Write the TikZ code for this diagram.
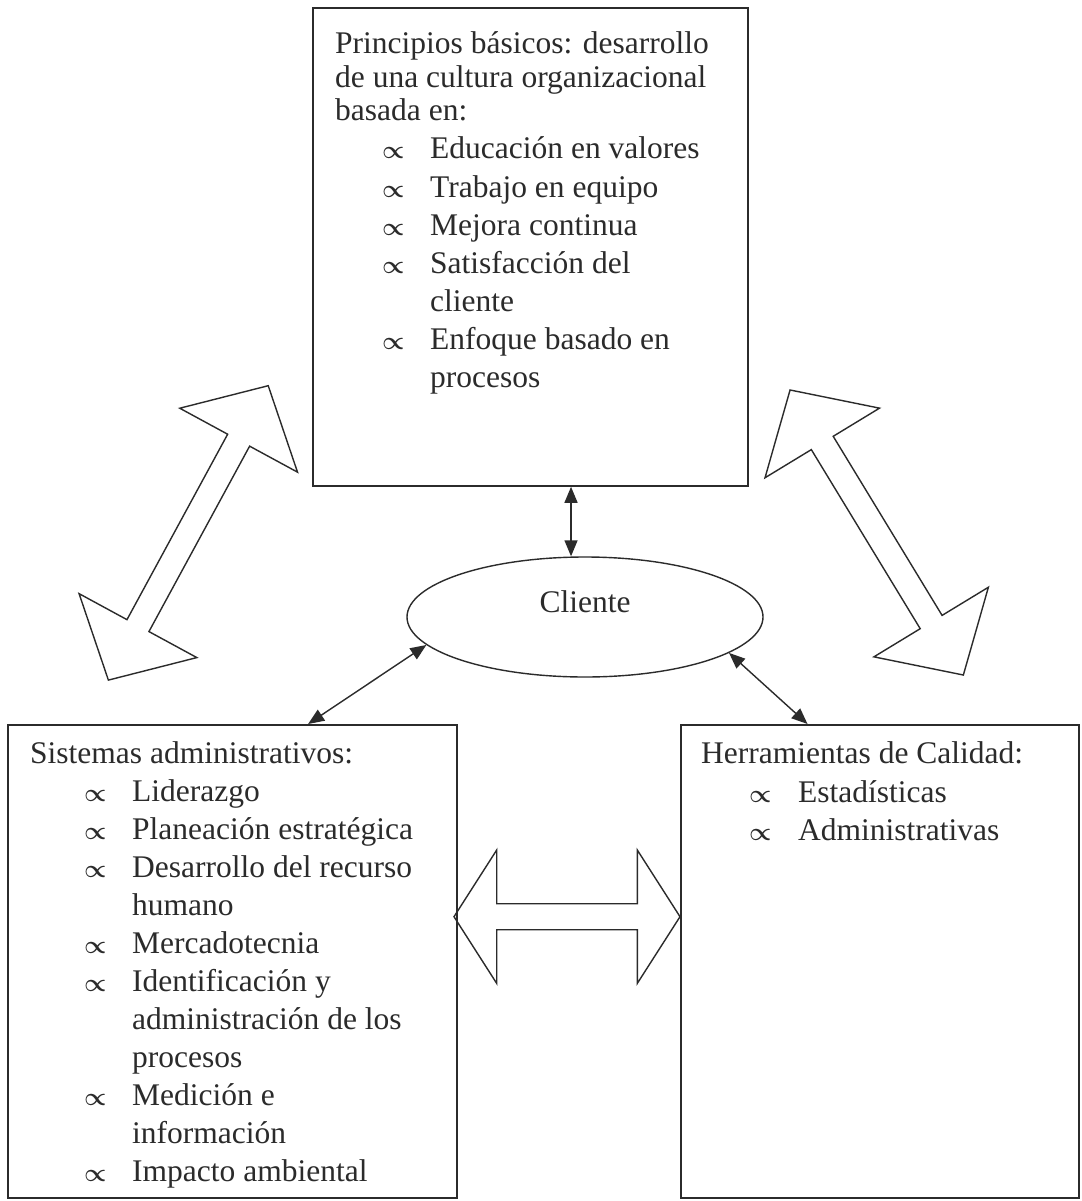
\documentclass[tikz,border=0pt]{standalone}
\usepackage{fontspec}
\setmainfont{Liberation Serif}
\usetikzlibrary{calc,arrows.meta,shapes.geometric}
\definecolor{ink}{HTML}{2B2B2B}
\begin{document}
\begin{tikzpicture}[x=1pt,y=-1pt,
  box/.style={draw=ink, line width=1.8pt, inner sep=0pt, anchor=north west},
  txt/.style={anchor=base west, inner sep=0pt, text=ink, font=\fontsize{31.5}{38}\selectfont},
  bul/.style={anchor=base west, inner sep=0pt, text=ink, font=\fontsize{27}{30}\selectfont\boldmath},
  link/.style={draw=ink, line width=1.4pt,
    {Triangle[length=16pt,width=13pt]}-{Triangle[length=16pt,width=13pt]}},
  bigarrow/.style={draw=ink, line width=1.4pt, fill=white, line join=miter},
  pics/hollow/.style n args={4}{code={
    % #1 half length, #2 shaft half width, #3 head half width, #4 head length
    \draw[bigarrow] (-#1,0) -- (-#1+#4,#3) -- (-#1+#4,#2) -- (#1-#4,#2)
      -- (#1-#4,#3) -- (#1,0) -- (#1-#4,-#3) -- (#1-#4,-#2)
      -- (-#1+#4,-#2) -- (-#1+#4,-#3) -- cycle;
  }}]
\useasboundingbox (0,0) rectangle (1081,1201);
\fill[white] (0,0) rectangle (1081,1201);

% hollow double arrows between the three blocks
\pic[rotate=61.5] at (188.3,532.9) {hollow={167.5}{12.5}{67}{62}};
\pic[rotate=121.3] at (876.7,532.5) {hollow={166.8}{12.8}{67}{62}};
\pic at (567,916.7) {hollow={113}{13}{66.7}{42.7}};

% blocks
\node[box, minimum width=435pt, minimum height=478pt] (topbox) at (312,7) {};
\node[box, minimum width=449pt, minimum height=473pt] (lbox) at (7,724) {};
\node[box, minimum width=398pt, minimum height=473pt] (rbox) at (680,724) {};

% client
\node[draw=ink, line width=1.4pt, ellipse, minimum width=356pt, minimum height=120pt,
      inner sep=0pt] (cli) at (585,617) {};
\node[anchor=base, inner sep=0pt, text=ink, font=\fontsize{31.5}{38}\selectfont]
      (clitext) at (585,612) {Cliente};

% top block text
\foreach \y/\t [count=\i] in {54/{Principios básicos: desarrollo},
    88/{de una cultura organizacional}, 121/{basada en:}}
  \node[txt] (th\i) at (335,\y) {\t};
\foreach \y/\t [count=\i] in {159/{Educación en valores}, 197/{Trabajo en equipo},
    235/{Mejora continua}, 273/{Satisfacción del}, 311/{cliente},
    349/{Enfoque basado en}, 387/{procesos}}
  \node[txt] (ti\i) at (430,\y) {\t};
\foreach \y [count=\i] in {159,197,235,273,349}
  \node[bul] (tb\i) at (382,\y) {$\propto$};

% left block text
\node[txt] (lh) at (30,763) {Sistemas administrativos:};
\foreach \y/\t [count=\i] in {801/{Liderazgo}, 839/{Planeación estratégica},
    877/{Desarrollo del recurso}, 915/{humano}, 953/{Mercadotecnia},
    991/{Identificación y}, 1029/{administración de los}, 1067/{procesos},
    1105/{Medición e}, 1143/{información}, 1181/{Impacto ambiental}}
  \node[txt] (li\i) at (132,\y) {\t};
\foreach \y [count=\i] in {801,839,877,953,991,1105,1181}
  \node[bul] (lb\i) at (84,\y) {$\propto$};

% right block text
\node[txt] (rh) at (701,763) {Herramientas de Calidad:};
\node[txt] (ri1) at (798,802) {Estadísticas};
\node[txt] (ri2) at (798,840) {Administrativas};
\node[bul] (rb1) at (749,802) {$\propto$};
\node[bul] (rb2) at (749,840) {$\propto$};

% links to the client
\coordinate (tp) at ($(topbox.south west)!0.593!(topbox.south east)$);
\draw[link] (tp) -- (cli.north -| tp);
\coordinate (lp) at ($(lbox.north west)!0.668!(lbox.north east)$);
\draw[link] (cli.190) -- (lp);
\coordinate (rp) at ($(rbox.north west)!0.319!(rbox.north east)$);
\draw[link] (cli.346) -- (rp);
\end{tikzpicture}
\end{document}
